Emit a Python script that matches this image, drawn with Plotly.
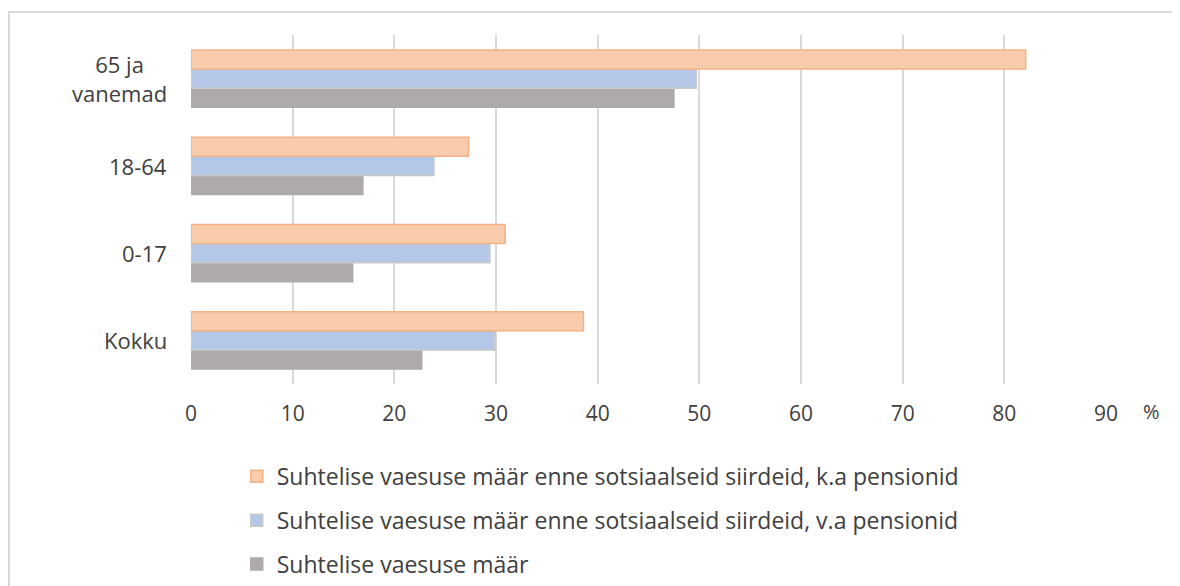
import plotly.graph_objects as go

categories = ["Kokku", "0-17", "18-64", "65 ja<br>vanemad"]
series_names = [
    "Suhtelise vaesuse määr enne sotsiaalseid siirdeid, k.a pensionid",
    "Suhtelise vaesuse määr enne sotsiaalseid siirdeid, v.a pensionid",
    "Suhtelise vaesuse määr",
]
kapens = [38.6, 30.9, 27.3, 82.1]
vapens = [29.9, 29.4, 23.9, 49.7]
maar = [22.7, 15.9, 16.9, 47.5]
x_ticks = [0, 10, 20, 30, 40, 50, 60, 70, 80, 90]

fills = ["#F8CBAD", "#B4C7E7", "#AEAAAA"]
lines = ["#F4B183", "#C9C9C9", "#AEAAAA"]
values = [kapens, vapens, maar]

fig = go.Figure()
# plotly draws the first trace at the bottom of each group: add gray first
for i in [2, 1, 0]:
    fig.add_trace(go.Bar(
        y=categories, x=values[i], orientation="h", name=series_names[i],
        marker=dict(color=fills[i], line=dict(color=lines[i], width=1.5)),
        legendgroup=str(i), legendrank=i + 1,
    ))

font_main = "Open Sans, DejaVu Sans, sans-serif"
# page body has an 8px margin; figure is shrunk/shifted to compensate
fig.update_layout(
    width=1172, height=578,
    margin=dict(l=183, r=74, t=27, b=202, autoexpand=False),
    paper_bgcolor="white", plot_bgcolor="white",
    barmode="group", bargap=0.345, bargroupgap=0,
    font=dict(family=font_main, color="#404040"),
    showlegend=True,
    legend=dict(
        x=0.050, y=-0.203, xanchor="left", yanchor="top",
        traceorder="grouped", tracegroupgap=11,
        font=dict(size=23, color="#404040", family=font_main),
        itemwidth=30, bgcolor="rgba(0,0,0,0)",
    ),
    xaxis=dict(
        range=[0, 90], tickvals=x_ticks, showgrid=True,
        gridcolor="#D9D9D9", gridwidth=2, zeroline=False,
        showline=False, ticks="", tickfont=dict(size=21, color="#404040"),
        ticklabelstandoff=15,
    ),
    yaxis=dict(
        categoryorder="array", categoryarray=categories,
        showticklabels=False, showgrid=False, zeroline=False, showline=False,
        range=[-0.5, 3.5],
    ),
)

for c in categories:
    fig.add_annotation(
        x=0, xref="paper", y=c, yref="y", text=c, showarrow=False,
        xanchor="right", xshift=-22, align="center",
        font=dict(size=22, color="#404040", family=font_main),
    )

fig.add_annotation(
    x=1, xref="paper", y=0, yref="paper", text="%", showarrow=False,
    xanchor="left", yanchor="top", xshift=35, yshift=-12,
    font=dict(size=20, color="#404040", family=font_main),
)

# outer chart border
fig.add_shape(
    type="rect", xref="paper", yref="paper",
    x0=(9 - 191) / 915, x1=(1200 - 191) / 915,
    y0=(384 - 600) / 349, y1=(384 - 12) / 349,
    line=dict(color="#D9D9D9", width=2), fillcolor="rgba(0,0,0,0)", layer="below",
)

fig.write_html("out.html")
